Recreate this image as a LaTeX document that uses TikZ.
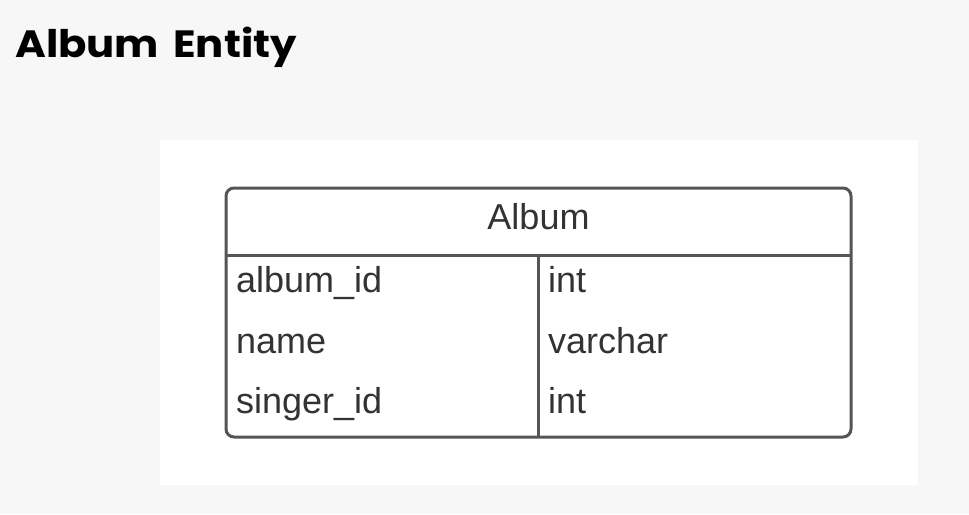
\documentclass[tikz,border=0pt]{standalone}
\usepackage{fontspec}
\setmainfont{Liberation Sans}
\newfontfamily\titlefont{Poppins}[UprightFont=* Bold,WordSpace=1.6]
\definecolor{bggray}{HTML}{F7F7F7}
\definecolor{linegray}{HTML}{555555}
\definecolor{txtgray}{HTML}{333333}
\begin{document}
\begin{tikzpicture}[x=1pt,y=-1pt,
  celltext/.style={anchor=base west,inner sep=0pt,text=txtgray,font=\fontsize{36}{40}\selectfont},
  frame/.style={draw=linegray,line width=3pt},
  titletext/.style={anchor=base west,inner sep=0pt,text=black,xscale=1.1,font=\titlefont\fontsize{38}{44}\selectfont}]
\fill[bggray] (0,0) rectangle (969,514);
\useasboundingbox (0,0) rectangle (969,514);
\fill[white] (160,140) rectangle (918,485);
\node[titletext] (title) at (15,57) {Album Entity};
% table
\coordinate (tl) at (226,188);
\coordinate (br) at (851,437);
\fill[white,rounded corners=8pt] (tl) rectangle (br);
\coordinate (hl) at (226,255);
\coordinate (hr) at (851,255);
\coordinate (dt) at (538,255);
\coordinate (db) at (538,437);
\draw[frame] (hl) -- (hr);
\draw[frame] (dt) -- (db);
\draw[frame,rounded corners=8pt] (tl) rectangle (br);
\node[anchor=base,inner sep=0pt,text=txtgray,font=\fontsize{36}{40}\selectfont] (hdr) at (538.5,229) {Album};
\node[celltext] (c1) at (236,292) {album\_id};
\node[celltext] (c2) at (236,353) {name};
\node[celltext] (c3) at (236,413) {singer\_id};
\node[celltext] (t1) at (548,292) {int};
\node[celltext] (t2) at (548,353) {varchar};
\node[celltext] (t3) at (548,413) {int};
\end{tikzpicture}
\end{document}
